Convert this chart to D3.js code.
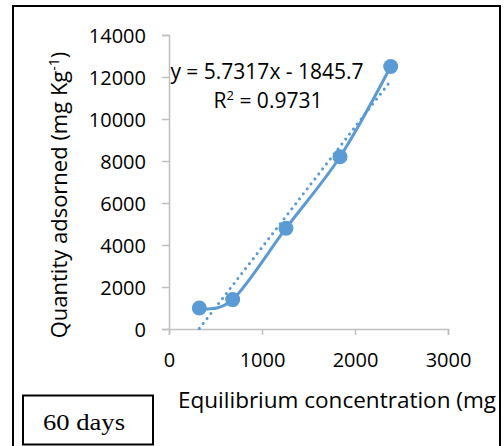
<!DOCTYPE html>
<html>
<head>
<meta charset="utf-8">
<script src="https://cdn.jsdelivr.net/npm/d3@7"></script>
<style>
  body { margin: 0; background: #fff; }
  svg { display: block; }
</style>
</head>
<body>
<div id="chart"></div>
<script>
// data
const concentration = [326, 685, 1258, 1839, 2384];
const adsorbed = [1000, 1400, 4800, 8200, 12500];
const xTicks = [0, 1000, 2000, 3000];
const yTicks = [0, 2000, 4000, 6000, 8000, 10000, 12000, 14000];
const slope = 5.7317, intercept = -1845.7;
const equationText = "y = 5.7317x - 1845.7";
const r2Text = "0.9731";

const width = 504, height = 446;
const blue = "#5B9BD5";
const font = "'Open Sans', sans-serif";

const svg = d3.select("#chart").append("svg")
    .attr("width", width)
    .attr("height", height);

svg.append("rect").attr("width", width).attr("height", height).attr("fill", "#fff");

const x = d3.scaleLinear().domain([0, 3000]).range([169, 448]);
const y = d3.scaleLinear().domain([0, 14000]).range([329, 35]);

// axes
const xAxis = svg.append("g")
    .attr("transform", `translate(0,${y(0)})`)
    .call(d3.axisBottom(x).tickValues(xTicks).tickSize(6).tickPadding(13).tickFormat(d3.format("d")));
const yAxis = svg.append("g")
    .attr("transform", `translate(${x(0)},0)`)
    .call(d3.axisLeft(y).tickValues(yTicks).tickSize(7).tickPadding(16).tickFormat(d3.format("d")));

[xAxis, yAxis].forEach(g => {
  g.select(".domain").attr("stroke", "#BFBFBF").attr("stroke-width", 1.5);
  g.selectAll(".tick line").attr("stroke", "#BFBFBF").attr("stroke-width", 1.5);
  g.selectAll("text").attr("fill", "#000").style("font-family", font).style("font-size", "20px");
});
xAxis.selectAll(".tick text").attr("dy", "0.95em");
yAxis.selectAll(".tick text").attr("dy", "0.36em");

// linear trendline over the data range
const xr = d3.extent(concentration);
const trend = xr.map(v => [v, slope * v + intercept]);
svg.append("path")
    .datum(trend)
    .attr("fill", "none")
    .attr("stroke", blue)
    .attr("stroke-width", 3)
    .attr("stroke-linecap", "round")
    .attr("stroke-dasharray", "0.1,6.2")
    .attr("d", d3.line().x(d => x(d[0])).y(d => y(d[1])));

// smoothed data line
const pts = concentration.map((c, i) => [c, adsorbed[i]]);
svg.append("path")
    .datum(pts)
    .attr("fill", "none")
    .attr("stroke", blue)
    .attr("stroke-width", 3)
    .attr("d", d3.line().x(d => x(d[0])).y(d => y(d[1])).curve(d3.curveCatmullRom.alpha(0)));

svg.selectAll(".dot")
    .data(pts)
  .enter().append("circle")
    .attr("class", "dot")
    .attr("cx", d => x(d[0]))
    .attr("cy", d => y(d[1]))
    .attr("r", 7.5)
    .attr("fill", blue);

// trendline label
svg.append("text")
    .attr("x", 267).attr("y", 79)
    .attr("text-anchor", "middle")
    .style("font-family", font).style("font-size", "21px")
    .text(equationText);
const r2 = svg.append("text")
    .attr("x", 268).attr("y", 108)
    .attr("text-anchor", "middle")
    .style("font-family", font).style("font-size", "21px");
r2.append("tspan").text("R");
r2.append("tspan").attr("dy", -8).style("font-size", "13px").text("2");
r2.append("tspan").attr("dy", 8).text(" = " + r2Text);

// axis titles
const yTitle = svg.append("text")
    .attr("transform", "translate(67,195) rotate(-90)")
    .attr("text-anchor", "middle")
    .style("font-family", font).style("font-size", "22px");
yTitle.append("tspan").text("Quantity adsorned (mg Kg");
yTitle.append("tspan").attr("dy", -8).style("font-size", "14px").text("-1");
yTitle.append("tspan").attr("dy", 8).text(")");

// the reference cuts this title at the frame, so it is fitted to end there
svg.append("text")
    .attr("x", 178).attr("y", 408)
    .attr("textLength", 318).attr("lengthAdjust", "spacingAndGlyphs")
    .style("font-family", font).style("font-size", "21px")
    .text("Equilibrium concentration (mg");

// outer frame (bottom edge falls outside the picture)
svg.append("path")
    .attr("d", "M13,447 V6 H500 V447")
    .attr("fill", "none")
    .attr("stroke", "#000")
    .attr("stroke-width", 2);

// label box
svg.append("rect")
    .attr("x", 23).attr("y", 395.5).attr("width", 130).attr("height", 49)
    .attr("fill", "#fff").attr("stroke", "#000").attr("stroke-width", 2);
svg.append("text")
    .attr("x", 43).attr("y", 430)
    .attr("textLength", 82).attr("lengthAdjust", "spacingAndGlyphs")
    .style("font-family", "'Liberation Serif', 'Times New Roman', serif").style("font-size", "23px")
    .text("60 days");
</script>
</body>
</html>
